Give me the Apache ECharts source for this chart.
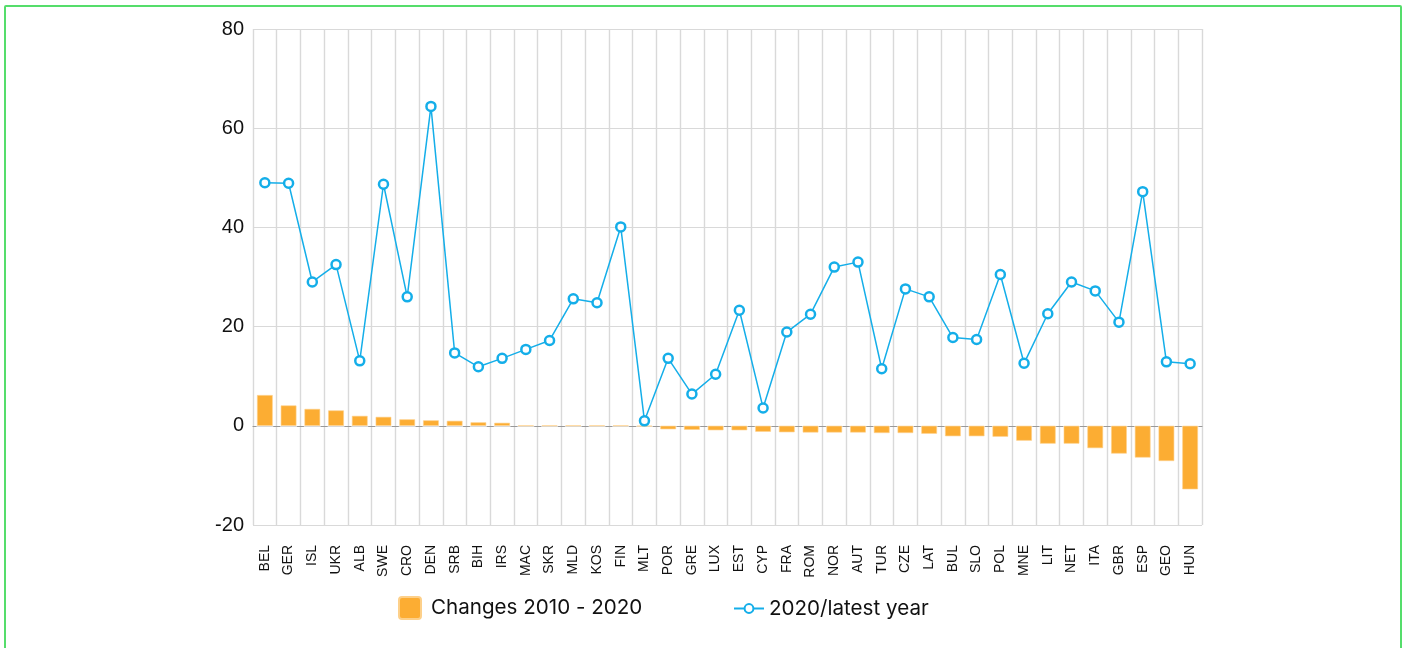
<!DOCTYPE html>
<html>
<head>
<meta charset="utf-8">
<script src="https://cdn.jsdelivr.net/npm/echarts@6/dist/echarts.min.js"></script>
<style>
  html, body { margin: 0; padding: 0; background: #fff; width: 1407px; height: 648px; overflow: hidden; }
  #chart { position: absolute; left: 0; top: 0; width: 1407px; height: 648px; }
  #frame { position: absolute; left: 4px; top: 5px; width: 1394px; height: 660px; border: 2px solid #55dd6b; border-radius: 2px; pointer-events: none; }
</style>
</head>
<body>
<div id="chart"></div>
<div id="frame"></div>
<script>
const categories = ['BEL','GER','ISL','UKR','ALB','SWE','CRO','DEN','SRB','BIH','IRS','MAC','SKR','MLD','KOS','FIN','MLT','POR','GRE','LUX','EST','CYP','FRA','ROM','NOR','AUT','TUR','CZE','LAT','BUL','SLO','POL','MNE','LIT','NET','ITA','GBR','ESP','GEO','HUN'];
const changes2010to2020 = [6.2, 4.1, 3.4, 3.1, 2.0, 1.8, 1.3, 1.1, 1.0, 0.7, 0.6, 0.05, 0.05, 0.05, 0.05, 0.05, -0.1, -0.7, -0.8, -0.9, -0.9, -1.2, -1.3, -1.35, -1.35, -1.35, -1.45, -1.45, -1.6, -2.1, -2.1, -2.2, -3.0, -3.6, -3.6, -4.5, -5.6, -6.4, -7.1, -12.8];
const latestYear = [49.0, 48.9, 29.0, 32.5, 13.1, 48.7, 26.0, 64.4, 14.7, 11.9, 13.6, 15.4, 17.2, 25.6, 24.8, 40.1, 1.0, 13.6, 6.4, 10.4, 23.3, 3.6, 18.9, 22.5, 32.0, 33.0, 11.5, 27.6, 26.0, 17.8, 17.4, 30.5, 12.6, 22.6, 29.0, 27.2, 20.9, 47.2, 12.9, 12.5];
const yTicks = [-20, 0, 20, 40, 60, 80];

const barName = 'Changes 2010 - 2020';
const lineName = '2020/latest year';
const font = 'Helvetica, Arial, "Liberation Sans", sans-serif';
const legendFont = 'Inter, Helvetica, Arial, sans-serif';
const orange = '#fcad33';
const blue = '#14aee9';

const chart = echarts.init(document.getElementById('chart'), null, { renderer: 'canvas' });
chart.setOption({
  animation: false,
  backgroundColor: '#ffffff',
  grid: { left: 253, right: 205, top: 29, bottom: 123, containLabel: false },
  legend: [
    {
      data: [{ name: barName, icon: 'path://M3,0 L19,0 Q22,0 22,3 L22,19 Q22,22 19,22 L3,22 Q0,22 0,19 L0,3 Q0,0 3,0 Z' }],
      left: 393, top: 591,
      itemWidth: 22, itemHeight: 22, itemGap: 10,
      textStyle: { fontSize: 20.6, color: '#111', fontFamily: legendFont, padding: [0, 0, 0, 5] }
    },
    {
      data: [{ name: lineName }],
      left: 728, top: 593,
      itemWidth: 30, itemHeight: 11,
      textStyle: { fontSize: 20.6, color: '#111', fontFamily: legendFont }
    }
  ],
  xAxis: {
    type: 'category',
    data: categories,
    boundaryGap: true,
    axisLine: { show: true, onZero: true, lineStyle: { color: '#999', width: 1.2, type: [6, 17.725], dashOffset: 3 } },
    axisTick: { show: false },
    splitLine: { show: true, interval: 0, lineStyle: { color: '#d9d9d9', width: 1.4 } },
    axisLabel: { rotate: 90, interval: 0, fontSize: 14, color: '#111', fontFamily: font, margin: 20 }
  },
  yAxis: {
    type: 'value',
    min: -20, max: 80, interval: 20,
    axisLine: { show: false },
    axisTick: { show: false },
    splitLine: { show: true, lineStyle: { color: '#d9d9d9', width: 1.2 } },
    axisLabel: {
      fontSize: 20, color: '#111', fontFamily: font, margin: 9,
      formatter: v => yTicks.includes(v) ? String(v) : ''
    }
  },
  series: [
    {
      name: barName,
      type: 'bar',
      data: changes2010to2020,
      barWidth: '66%',
      itemStyle: { color: orange, borderColor: '#fdd08a', borderWidth: 0.6 },
      z: 2
    },
    {
      name: lineName,
      type: 'line',
      data: latestYear,
      symbol: 'circle',
      symbolSize: 9,
      showAllSymbol: true,
      lineStyle: { color: blue, width: 1.5 },
      itemStyle: { color: '#ffffff', borderColor: blue, borderWidth: 2.5 },
      z: 3
    }
  ]
});
</script>
</body>
</html>
